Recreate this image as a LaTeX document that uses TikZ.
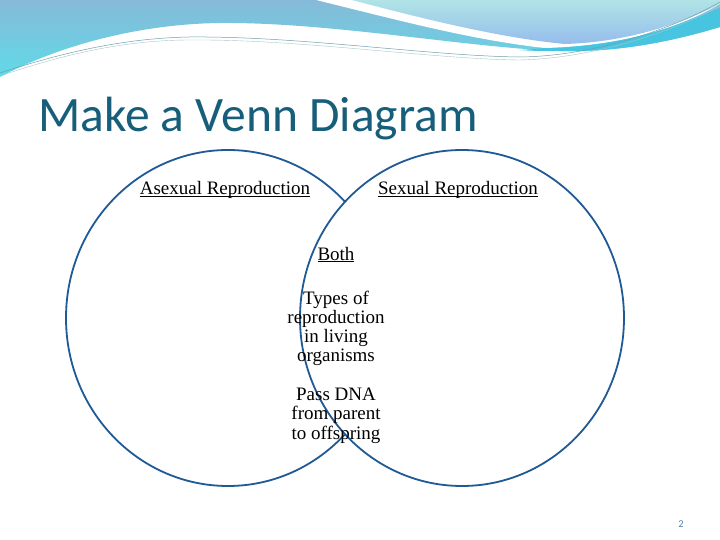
\documentclass[tikz,border=0pt]{standalone}
\usepackage{fontspec}
\setmainfont{Liberation Serif}
\newfontfamily\titlefont{Carlito}
\definecolor{ellblue}{RGB}{31,90,150}
\definecolor{titleteal}{RGB}{23,94,122}
\definecolor{cyanTop}{RGB}{134,186,216}
\definecolor{cyanBot}{RGB}{96,218,232}
\definecolor{lightTop}{RGB}{176,228,230}
\definecolor{lightBot}{RGB}{150,188,236}
\definecolor{streak}{RGB}{70,196,224}
\definecolor{thinline}{RGB}{110,160,170}
\definecolor{pagenum}{RGB}{90,130,170}
\newcommand{\ulbase}[1]{\underline{\smash{#1}}}
\tikzset{
  venn/.style={draw=ellblue, line width=1.8pt},
  label/.style={font=\fontsize{19}{19.3}\selectfont, inner sep=0pt, anchor=base},
}
\begin{document}
\begin{tikzpicture}[x=1pt,y=-1pt]
\useasboundingbox (0,0) rectangle (720,540);
\fill[white] (0,0) rectangle (720,540);
% header waves
\shade[top color=cyanTop, bottom color=cyanBot]
  (0,0) -- (720,0) -- (720,27)
  .. controls (660,45) and (610,52) .. (560,51)
  .. controls (470,48) and (330,22) .. (220,23)
  .. controls (140,24) and (60,45) .. (0,77) -- cycle;
\fill[streak] (520,50) .. controls (600,45) and (680,25) .. (720,8) -- (720,27)
  .. controls (660,45) and (610,52) .. (560,51) .. controls (545,51) and (530,51) .. (520,50) -- cycle;
\fill[white] (316,0) -- (720,0) -- (720,4)
  .. controls (680,28) and (620,46) .. (545,48)
  .. controls (470,40) and (390,18) .. (316,0) -- cycle;
\shade[top color=lightTop, bottom color=lightBot]
  (352,0) -- (720,0) -- (720,4)
  .. controls (685,22) and (630,42) .. (565,44)
  .. controls (500,38) and (420,18) .. (352,0) -- cycle;
\draw[thinline, line width=0.5pt]
  (0,73) .. controls (70,50) and (130,38) .. (190,37)
  .. controls (300,36) and (430,56) .. (520,57)
  .. controls (600,56) and (680,25) .. (720,2);
\draw[thinline!60, line width=0.4pt]
  (0,76) .. controls (70,52) and (130,40) .. (190,40)
  .. controls (300,39) and (430,59) .. (520,60)
  .. controls (600,58) and (680,28) .. (720,6);
% title
\node[anchor=base west, inner sep=0pt, text=titleteal, font=\titlefont\fontsize{49.5}{52}\selectfont] (title) at (38,132) {Make a Venn Diagram};
% Venn ellipses
\draw[venn] (228,318) ellipse [x radius=162, y radius=168];
\draw[venn, fill=white] (462,318) ellipse [x radius=162, y radius=168];
% labels
\node[label] (asexual) at (225,195) {\ulbase{Asexual Reproduction}};
\node[label] (sexual) at (458,195) {\ulbase{Sexual Reproduction}};
\node[label] (both) at (336,260) {\ulbase{Both}};
\node[label] (types) at (336,304) {Types of};
\node[label] (repro) at (336,323.3) {reproduction};
\node[label] (living) at (336,342.6) {in living};
\node[label] (organisms) at (336,361.9) {organisms};
\node[label] (pass) at (336,400.5) {Pass DNA};
\node[label] (from) at (336,419.8) {from parent};
\node[label] (offspring) at (336,439.1) {to offspring};
% page number
\node[anchor=base, inner sep=0pt, text=pagenum, font=\titlefont\fontsize{10.5}{12}\selectfont] (pnum) at (681,527) {2};
\end{tikzpicture}
\end{document}
